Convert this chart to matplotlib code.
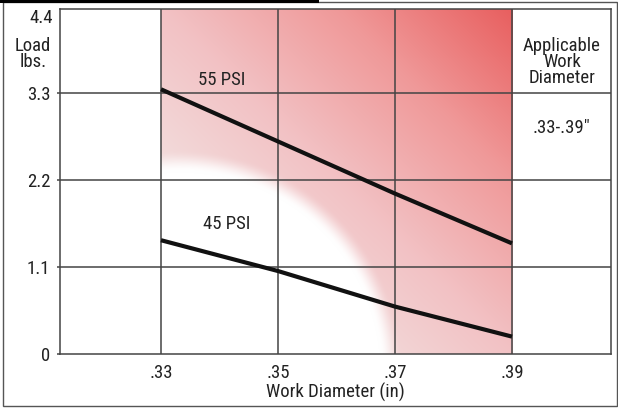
import numpy as np
import matplotlib
matplotlib.use('Agg')
from matplotlib import pyplot as plt
from matplotlib.patches import Rectangle
from matplotlib.transforms import Affine2D

plt.rcParams['font.family'] = ['Roboto Condensed', 'Archivo Narrow', 'DejaVu Sans']

# data
diam = [0.33, 0.35, 0.37, 0.39]
load_55 = [3.35, 2.69, 2.03, 1.40]
load_45 = [1.44, 1.05, 0.60, 0.22]
x_ticks = [0.33, 0.35, 0.37, 0.39]
x_labels = ['.33', '.35', '.37', '.39']
y_ticks = [0, 1.1, 2.2, 3.3]
y_labels = ['0', '1.1', '2.2', '3.3']

xmin, xmax = 0.31274, 0.40692
ytop = 4.366

fig = plt.figure(figsize=(6.18, 4.08), dpi=100)
ax = fig.add_axes([60/618, 1-354/408, 551/618, 345/408])
ax.set_xlim(xmin, xmax)
ax.set_ylim(0, ytop)

# pixel transform (origin top-left) for the loose labels
pix = Affine2D().scale(1, -1).translate(0, 408)

# shaded band: diagonal red gradient with a white blob low-left
nx, ny = 351, 345
px, py = np.meshgrid(np.arange(nx) + 0.5, np.arange(ny) + 0.5)
s = (px/nx + py/ny) / 2
stops = [0.0, 0.3, 0.5, 0.75, 1.0]
cols = np.array([[0.92, 0.90, 0.90],
                 [0.95, 0.85, 0.85],
                 [0.95, 0.76, 0.77],
                 [0.94, 0.60, 0.60],
                 [0.91, 0.37, 0.37]])
img = np.stack([np.interp(s, stops, cols[:, k]) for k in range(3)], axis=-1)
d = np.hypot(px - 19, py + 18)
t = np.clip((d - 200) / 22, 0, 1)
m = t*t*(3 - 2*t)
img = img*m[..., None] + (1 - m[..., None])
ax.imshow(img, origin='lower', extent=[0.33, 0.39, 0, ytop], aspect='auto',
          interpolation='bilinear', zorder=0)

for xv in x_ticks:
    ax.axvline(xv, color='#444444', lw=1.1, zorder=1)
for yv in y_ticks[1:]:
    ax.axhline(yv, color='#444444', lw=1.1, zorder=1)

ax.plot(diam, load_55, color='#111111', lw=3.0, solid_capstyle='butt', zorder=3)
ax.plot(diam, load_45, color='#111111', lw=3.0, solid_capstyle='butt', zorder=3)

fs = 13.5
tc = '#222222'
ax.text(0.3403, 3.47, '55 PSI', ha='center', va='center', fontsize=fs, color=tc)
ax.text(0.3412, 1.64, '45 PSI', ha='center', va='center', fontsize=fs, color=tc)

ax.set_xticks(x_ticks)
ax.set_xticklabels(x_labels)
ax.set_yticks(y_ticks)
ax.set_yticklabels(y_labels)
ax.tick_params(axis='x', length=0, pad=7, labelsize=fs, colors=tc)
ax.tick_params(axis='y', length=2, pad=5, labelsize=fs, colors=tc, width=1.1, color='#444444')
ax.set_xlabel('Work Diameter (in)', fontsize=fs, color=tc, labelpad=1)

ax.text(53, 18, '4.4', transform=pix, ha='right', va='center', fontsize=fs, color=tc)
ax.text(33, 54, 'Load\nlbs.', transform=pix, ha='center', va='center', fontsize=fs,
        color=tc, linespacing=0.85)
ax.text(562, 62, 'Applicable\nWork\nDiameter', transform=pix, ha='center', va='center',
        fontsize=fs, color=tc, linespacing=0.85)
ax.text(562, 128, '.33-.39"', transform=pix, ha='center', va='center', fontsize=fs, color=tc)

for sp in ax.spines.values():
    sp.set_color('#444444')
    sp.set_linewidth(1.1)

# outer frame and the black bar on top
fig.add_artist(Rectangle((2.5/618, 2/408), 614/618, 404.5/408, transform=fig.transFigure,
                         fill=False, edgecolor='#555555', lw=1.0))
fig.add_artist(Rectangle((0, 405/408), 319/618, 3/408, transform=fig.transFigure,
                         color='black', lw=0))

fig.savefig('out.png', dpi=100)
